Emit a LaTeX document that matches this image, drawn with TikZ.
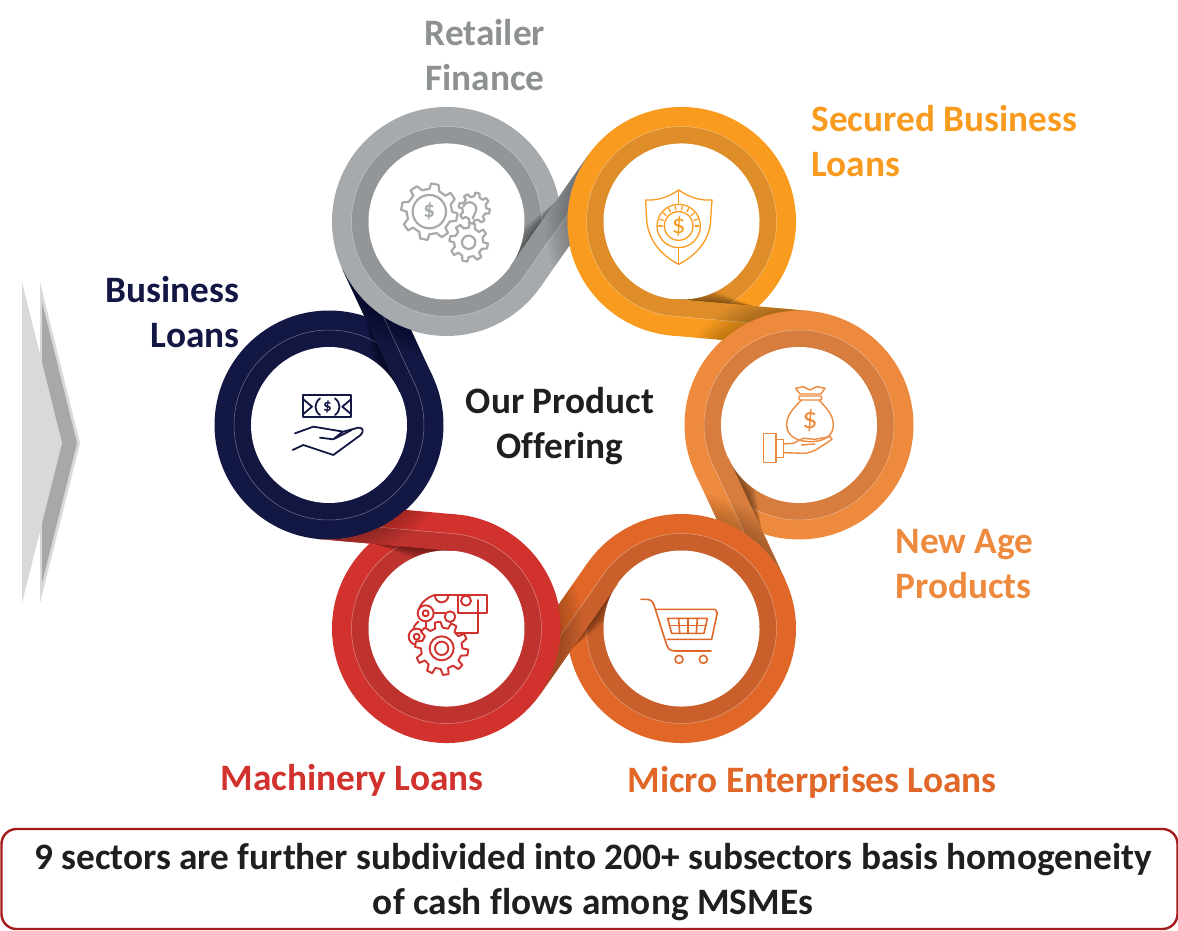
\documentclass[tikz,border=0pt]{standalone}
\usepackage{fontspec}
\setmainfont[Ligatures=CommonOff]{Carlito}
\definecolor{retA}{HTML}{A7AAAC}
\definecolor{retB}{HTML}{939698}
\definecolor{secA}{HTML}{F99B1E}
\definecolor{secB}{HTML}{DE8D28}
\definecolor{ageA}{HTML}{EE8A3E}
\definecolor{ageB}{HTML}{D77D3E}
\definecolor{micA}{HTML}{E06727}
\definecolor{micB}{HTML}{C9602C}
\definecolor{macA}{HTML}{D2322D}
\definecolor{macB}{HTML}{BF332F}
\definecolor{busA}{HTML}{131743}
\definecolor{busB}{HTML}{121640}
\definecolor{boxred}{HTML}{A61C1C}
\tikzset{
  ringlabel/.style={font=\fontsize{37.3}{44.5}\selectfont\bfseries},
  tailframe/.style={shift={(235,0)},rotate=-155,shift={(78,0)},rotate=90},
  seam/.style={draw=white,draw opacity=.4,line width=.5pt},
  iconline/.style={line width=#1,line join=round,line cap=round,fill=none},
  zoomed/.style={x=.3333pt,y=-.3333pt}
}
% gear outline: centre, outer radius, root radius, teeth
\newcommand{\drawcog}[4]{
  \pgfmathsetmacro{\cogstep}{360/#4}
  \draw[fill=white,shift={#1}] (0:#3) \foreach \k in {1,...,#4}{
    -- ({(\k-1+.08)*\cogstep}:#2) -- ({(\k-1+.42)*\cogstep}:#2)
    -- ({(\k-1+.58)*\cogstep}:#3) -- ({\k*\cogstep}:#3)} -- cycle;
}
\begin{document}
\begin{tikzpicture}[x=1pt,y=1pt]
  \useasboundingbox (0,0) rectangle (1178,930);
  % chevrons
  \fill[gray!30] (40,648) -- (80,487) -- (40,327) -- cycle;
  \fill[gray!68] (42,628) -- (77,487) -- (42,347) -- cycle;
  \fill[gray!30] (22,648) -- (62,487) -- (22,327) -- cycle;
  % rings
  \foreach \ang/\cola/\colb in {120/retA/retB,60/secA/secB,0/ageA/ageB,-60/micA/micB,-120/macA/macB,180/busA/busB}{
    \begin{scope}[shift={(564,505)},rotate=\ang]
      \fill[\cola] (235,0) circle (114.5);
      \fill[\colb] (235,0) circle (95);
      \path[seam] (235,0) circle (95);
      \begin{scope}[tailframe]
        \foreach \w in {1,2,...,12}
          \fill[black,opacity=.04] (0,0) -- (78,0) -- (38,\w) -- cycle;
      \end{scope}
      \fill[white] (235,0) circle (78);
    \end{scope}
  }
  % tails, each lying on its own ring and running into the next one
  \foreach \ang/\cola/\colb in {120/retA/retB,60/secA/secB,0/ageA/ageB,-60/micA/micB,-120/macA/macB,180/busA/busB}{
    \begin{scope}[shift={(564,505)},rotate=\ang,tailframe]
      \fill[\cola] (0,0) -- (135.3,0) arc[start angle=90,end angle=137.1,radius=114.5] -- (0,-36.5) -- cycle;
      \fill[\colb] (0,0) -- (135.3,0) arc[start angle=90,end angle=121.6,radius=114.5] -- (0,-17) -- cycle;
      \draw[seam] (0,-17) -- (74.8,-17);
      \begin{scope}
        \clip (0,0) -- (135.3,0) arc[start angle=90,end angle=137.1,radius=114.5] -- (0,-36.5) -- cycle;
        \foreach \w in {2,4,...,22}
          \fill[black,opacity=.02] (134.8,-114.5) circle (114.5+\w);
      \end{scope}
    \end{scope}
  }
  % labels
  \node[ringlabel,text=retA!85!black,align=center] (l_ret) at (485,875) {Retailer\\Finance};
  \node[ringlabel,text=secA,align=left,anchor=west] (l_sec) at (808,789) {Secured Business\\Loans};
  \node[ringlabel,text=ageA,align=left,anchor=west] (l_age) at (892,366) {New Age\\Products};
  \node[ringlabel,text=micA] (l_mic) at (812,148) {Micro Enterprises Loans};
  \node[ringlabel,text=macA] (l_mac) at (352,150) {Machinery Loans};
  \node[ringlabel,text=busA,align=right,anchor=east] (l_bus) at (243,618) {Business\\Loans};
  \node[ringlabel,text=black!88,align=center] (l_hub) at (560,504) {Our Product\\Offering};
  \node[rounded corners=15pt,draw=boxred,line width=2.4pt,fill=white,
        minimum width=1176pt,minimum height=100pt,inner sep=0pt] (l_box) at (589.5,51) {};
  \node[ringlabel,text=black!88,align=center] (l_note) at (593,48)
       {9 sectors are further subdivided into 200+ subsectors basis homogeneity\\of cash flows among MSMEs};
  % retailer icon
  \begin{scope}[shift={(320,840)},zoomed,iconline=2.2pt,color=retA]
    \drawcog{(463,355)}{47}{36}{8}
    \draw (430,350) arc[start angle=200,end angle=380,radius=20] -- (458,385);
    \drawcog{(328,365)}{85}{68}{8}
    \draw (328,365) circle (50);
    \node[font=\fontsize{23}{23}\selectfont\bfseries] (d_ret) at (328,365) {\$};
    \drawcog{(446,457)}{58}{44}{8}
    \draw (446,457) circle (20);
  \end{scope}
  % shield icon
  \begin{scope}[shift={(620,760)},zoomed,iconline=1.3pt,color=secA]
    \draw (176,60) .. controls (140,85) and (105,92) .. (77,90) -- (80,150)
      .. controls (85,215) and (130,260) .. (176,283)
      .. controls (222,260) and (270,215) .. (272,150) -- (276,90)
      .. controls (245,92) and (212,85) .. (176,60) -- cycle;
    \draw (176,60) -- (176,103) (176,235) -- (176,283);
    \draw (176,168) circle (65) (176,168) circle (43);
    \foreach \a in {180,200,...,360}
      \draw[shift={(176,168)}] (\a:49) -- (\a:60);
    \node[font=\fontsize{27}{27}\selectfont] (d_sec) at (176,168) {\$};
  \end{scope}
  % money bag icon
  \begin{scope}[shift={(620,760)},zoomed,iconline=1.4pt,color=ageA]
    \draw (527,655) -- (550,650) -- (570,660) -- (590,650) -- (615,655) -- (603,672) -- (540,672) -- cycle;
    \draw[rounded corners=1pt] (537,678) rectangle (605,690);
    \draw (545,690) .. controls (520,715) and (500,735) .. (500,765)
      .. controls (500,800) and (535,815) .. (570,815)
      .. controls (610,815) and (640,800) .. (640,765)
      .. controls (640,735) and (620,715) .. (597,690);
    \node[font=\fontsize{30}{30}\selectfont] (d_age) at (570,752) {\$};
    \draw (430,790) rectangle (468,878) (468,808) rectangle (490,862);
    \draw (490,822) -- (520,820) -- (550,805) -- (585,808) -- (630,800) -- (636,808)
      -- (600,832) .. controls (580,845) and (565,850) .. (550,850) -- (490,848);
    \draw (545,825) -- (585,822);
  \end{scope}
  % cart icon
  \begin{scope}[shift={(630,340)},zoomed,iconline=1.6pt,color=micA]
    \draw (33,28) -- (50,28) .. controls (62,28) and (68,35) .. (72,45) -- (110,165)
      .. controls (115,178) and (122,183) .. (135,183) -- (243,183);
    \draw (80,58) -- (255,58) -- (262,68) -- (245,148) -- (112,148);
    \draw (113,85) -- (232,85) -- (222,130) -- (125,130) -- cycle;
    \draw (118,107) -- (227,107);
    \foreach \k in {0,1,2}
      \draw (146+\k*28,85) -- (149+\k*25,130);
    \draw (147,208) circle (12) (220,208) circle (12);
  \end{scope}
  % engine icon
  \begin{scope}[shift={(380,350)},zoomed,iconline=1.9pt,color=macA]
    \draw (165,45) -- (320,45) -- (320,100) -- (235,100) -- (235,47);
    \draw (295,100) -- (295,160) -- (230,160);
    \draw (295,60) -- (295,95);
    \draw (165,47) arc[start angle=180,end angle=0,radius=20];
    \draw (165,45) .. controls (145,50) and (115,70) .. (115,100);
    \draw (115,125) .. controls (105,135) and (100,140) .. (100,148);
    \draw (155,100) -- (195,100) (137,125) -- (137,150);
    \draw[fill=white] (137,100) circle (24) (110,170) circle (24);
    \draw (137,100) circle (9) (110,170) circle (9);
    \draw (210,110) circle (16) (258,62) circle (15);
    \drawcog{(185,205)}{80}{62}{10}
    \draw (185,205) circle (36) (185,205) circle (20);
  \end{scope}
  % banknote icon
  \begin{scope}[shift={(270,550)},zoomed,iconline=1.8pt,color=busA]
    \draw (100,45) rectangle (243,112);
    \draw (150,55) .. controls (132,70) and (132,92) .. (150,105);
    \draw (195,55) .. controls (213,70) and (213,92) .. (195,105);
    \draw (100,58) -- (126,80) -- (100,102) (243,58) -- (217,80) -- (243,102);
    \node[font=\fontsize{17}{17}\selectfont\bfseries] (d_bus) at (172,80) {\$};
    \draw (75,160) -- (130,140) -- (220,155) -- (265,143) .. controls (280,142) and (282,155) .. (272,165)
      -- (190,225) -- (100,195) -- (68,210);
    \draw (150,173) -- (190,178) -- (245,150) (190,178) -- (218,155);
  \end{scope}
\end{tikzpicture}
\end{document}
